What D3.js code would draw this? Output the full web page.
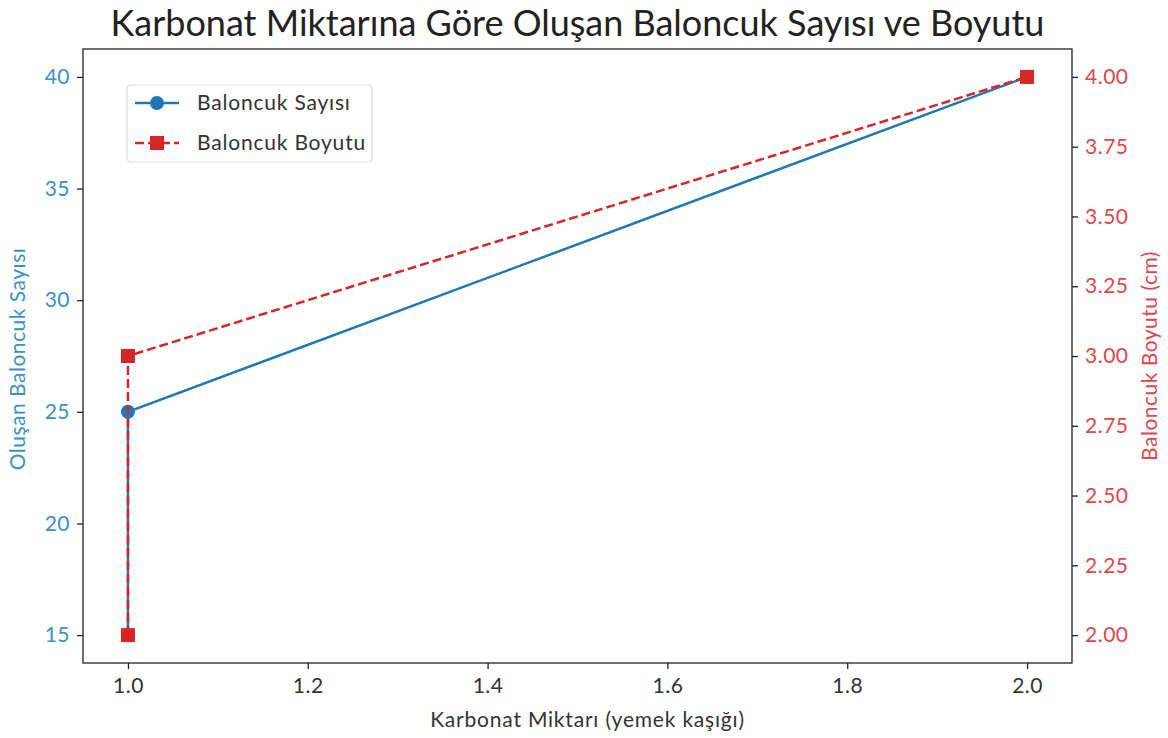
<!DOCTYPE html>
<html>
<head>
<meta charset="utf-8">
<script src="https://cdn.jsdelivr.net/npm/d3@7"></script>
<style>
  body { margin: 0; background: #fff; }
  svg { font-family: Lato, "Open Sans", sans-serif; }
</style>
</head>
<body>
<div id="container"></div>
<script>
const W = 1168, H = 738;

// data
const carbonate = [1.0, 1.0, 2.0];
const bubbleCount = [15, 25, 40];
const bubbleSize = [2.0, 3.0, 4.0];
const xTicks = [1.0, 1.2, 1.4, 1.6, 1.8, 2.0];
const leftTicks = [15, 20, 25, 30, 35, 40];
const rightTicks = [2.0, 2.25, 2.5, 2.75, 3.0, 3.25, 3.5, 3.75, 4.0];

const blue = "#1f77b4", red = "#d62728";
const blueText = "#3d8fc8", redText = "#e0464a";
const fs = 21;

const m = { left: 83, right: 1072, top: 49, bottom: 663 };

const x = d3.scaleLinear().domain([0.95, 2.05]).range([m.left, m.right]);
const yL = d3.scaleLinear().domain([13.75, 41.25]).range([m.bottom, m.top]);
const yR = d3.scaleLinear().domain([1.9, 4.1]).range([m.bottom, m.top]);

const svg = d3.select("#container").append("svg")
    .attr("width", W).attr("height", H);

// title
svg.append("text")
    .attr("x", (m.left + m.right) / 2 - 0).attr("y", 36)
    .attr("text-anchor", "middle")
    .attr("font-size", 36).attr("fill", "#222")
    .text("Karbonat Miktarına Göre Oluşan Baloncuk Sayısı ve Boyutu");

// axes
const xAxis = svg.append("g")
    .attr("transform", `translate(0,${m.bottom})`)
    .call(d3.axisBottom(x).tickValues(xTicks).tickFormat(d3.format(".1f")).tickSize(6).tickPadding(9));
xAxis.selectAll("text").attr("fill", "#333");

const lAxis = svg.append("g")
    .attr("transform", `translate(${m.left},0)`)
    .call(d3.axisLeft(yL).tickValues(leftTicks).tickSize(6).tickPadding(7));
lAxis.selectAll("text").attr("fill", blueText);

const rAxis = svg.append("g")
    .attr("transform", `translate(${m.right},0)`)
    .call(d3.axisRight(yR).tickValues(rightTicks).tickFormat(d3.format(".2f")).tickSize(6).tickPadding(7));
rAxis.selectAll("text").attr("fill", redText);

[xAxis, lAxis, rAxis].forEach(a => {
  a.attr("font-family", null).attr("font-size", fs).attr("letter-spacing", 0.5);
  a.select(".domain").remove();
  a.selectAll("line").attr("stroke", "#222").attr("stroke-width", 1.3);
});

// frame
svg.append("rect")
    .attr("x", m.left).attr("y", m.top)
    .attr("width", m.right - m.left).attr("height", m.bottom - m.top)
    .attr("fill", "none").attr("stroke", "#222").attr("stroke-width", 1.3);

// axis labels
svg.append("text")
    .attr("x", (m.left + m.right) / 2 + 10).attr("y", 727)
    .attr("text-anchor", "middle").attr("font-size", fs).attr("letter-spacing", 0.8).attr("fill", "#333")
    .text("Karbonat Miktarı (yemek kaşığı)");
svg.append("text")
    .attr("transform", `translate(25,${(m.top + m.bottom) / 2 + 3}) rotate(-90)`)
    .attr("text-anchor", "middle").attr("font-size", fs).attr("letter-spacing", 0.5).attr("fill", blueText)
    .text("Oluşan Baloncuk Sayısı");
svg.append("text")
    .attr("transform", `translate(1157,${(m.top + m.bottom) / 2}) rotate(-90)`)
    .attr("text-anchor", "middle").attr("font-size", fs).attr("letter-spacing", 0.5).attr("fill", redText)
    .text("Baloncuk Boyutu (cm)");

// series
const countPts = carbonate.map((c, i) => [c, bubbleCount[i]]);
const sizePts = carbonate.map((c, i) => [c, bubbleSize[i]]);

svg.append("path")
    .datum(countPts)
    .attr("d", d3.line().x(d => x(d[0])).y(d => yL(d[1])))
    .attr("fill", "none").attr("stroke", blue).attr("stroke-width", 2.5);
svg.selectAll("circle.count")
    .data(countPts).join("circle")
    .attr("class", "count")
    .attr("cx", d => x(d[0])).attr("cy", d => yL(d[1])).attr("r", 7)
    .attr("fill", blue);

svg.append("path")
    .datum(sizePts)
    .attr("d", d3.line().x(d => x(d[0])).y(d => yR(d[1])))
    .attr("fill", "none").attr("stroke", red).attr("stroke-width", 2.5)
    .attr("stroke-dasharray", "9,4");
svg.selectAll("rect.size")
    .data(sizePts).join("rect")
    .attr("class", "size")
    .attr("x", d => x(d[0]) - 7).attr("y", d => yR(d[1]) - 7)
    .attr("width", 14).attr("height", 14)
    .attr("fill", red);

// legend
const lg = svg.append("g").attr("transform", "translate(127,85)");
lg.append("rect")
    .attr("width", 245).attr("height", 77).attr("rx", 4)
    .attr("fill", "#fff").attr("fill-opacity", 0.8)
    .attr("stroke", "#ddd").attr("stroke-width", 1.2);
const items = [
  { name: "Baloncuk Sayısı", color: blue, dash: null, shape: "circle" },
  { name: "Baloncuk Boyutu", color: red, dash: "9,4", shape: "square" }
];
items.forEach((it, i) => {
  const cy = 18 + i * 40;
  lg.append("line")
      .attr("x1", 8).attr("x2", 52).attr("y1", cy).attr("y2", cy)
      .attr("stroke", it.color).attr("stroke-width", 2.5)
      .attr("stroke-dasharray", it.dash);
  if (it.shape === "circle") {
    lg.append("circle").attr("cx", 30).attr("cy", cy).attr("r", 7).attr("fill", it.color);
  } else {
    lg.append("rect").attr("x", 23).attr("y", cy - 7).attr("width", 14).attr("height", 14).attr("fill", it.color);
  }
  lg.append("text")
      .attr("x", 70).attr("y", cy + 7)
      .attr("font-size", fs).attr("letter-spacing", 0.8).attr("fill", "#333")
      .text(it.name);
});
</script>
</body>
</html>
